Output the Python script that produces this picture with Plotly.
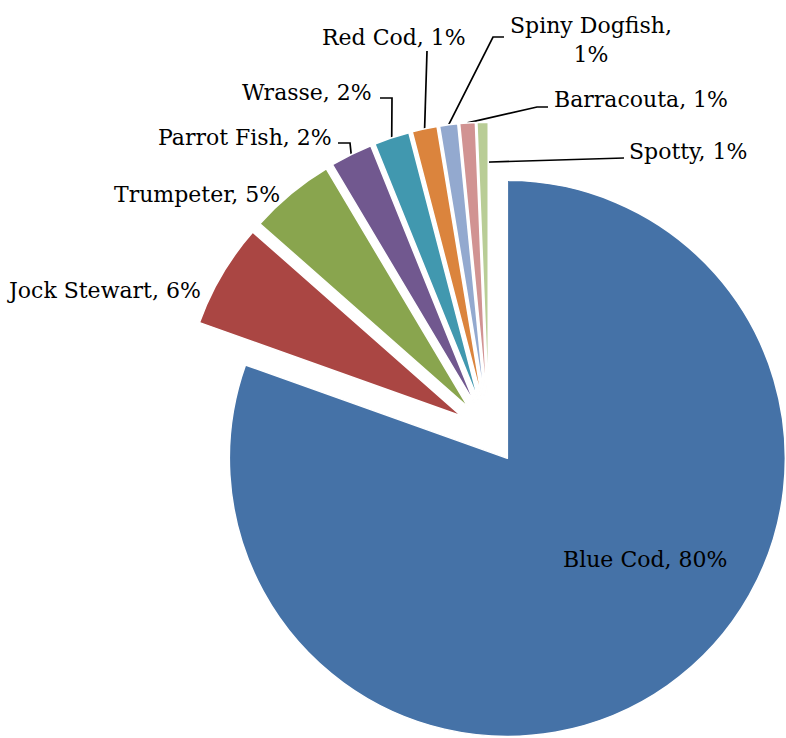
import math
import plotly.graph_objects as go

# Catch composition by species (share of total, %)
species = ["Blue Cod", "Jock Stewart", "Trumpeter", "Parrot Fish", "Wrasse",
           "Red Cod", "Spiny Dogfish", "Barracouta", "Spotty"]
share = [80.45, 6.05, 4.95, 2.45, 2.05, 1.45, 1.05, 0.90, 0.65]
colors = ["#4572A7", "#AA4643", "#89A54E", "#71588F", "#4198AF",
          "#DB843D", "#93A9CF", "#D19392", "#B9CD96"]

W, H = 786, 738
R = 278                  # slice radius (px)
CX, CY = 488.9, 432.2    # shared pie centre (px)
EXPLODE = 32             # every slice is pushed out along its bisector (px)

n = len(species)
total = sum(share)
pct = [v / total * 100 for v in share]

# bisector angle of each slice, clockwise from 12 o'clock
mids, acc = [], 0.0
for v in share:
    mids.append((acc + v / 2) / total * 2 * math.pi)
    acc += v


def unit(a):
    return math.sin(a), -math.cos(a)


apex = [(CX + EXPLODE * unit(a)[0], CY + EXPLODE * unit(a)[1]) for a in mids]


def px(x, y):
    return x / W, 1 - y / H


fig = go.Figure()

# one pie per exploded slice, all sharing the same values and angles
for i in range(n):
    ax, ay = apex[i]
    x0, x1 = max(0, (ax - R) / W), min(1, (ax + R) / W)
    y0, y1 = max(0, 1 - (ay + R) / H), min(1, 1 - (ay - R) / H)
    fig.add_trace(go.Pie(
        labels=species, values=share, sort=False,
        direction="clockwise", rotation=0,
        marker=dict(
            colors=[colors[j] if j == i else "rgba(0,0,0,0)" for j in range(n)],
            line=dict(color="white",
                      width=[1.5 if j == i else 0 for j in range(n)]),
        ),
        textinfo="none", hoverinfo="label+percent", showlegend=False,
        domain=dict(x=[x0, x1], y=[y0, y1]),
    ))

# label placement (px) and leader-line bends (px)
label_pos = {
    "Blue Cod": (645, 559, "center"),
    "Jock Stewart": (203, 290, "right"),
    "Trumpeter": (282, 195, "right"),
    "Parrot Fish": (334, 137, "right"),
    "Wrasse": (374, 93, "right"),
    "Red Cod": (394, 37, "center"),
    "Spiny Dogfish": (508, 40, "left"),
    "Barracouta": (552, 100, "left"),
    "Spotty": (627, 151, "left"),
}
leader_bends = {
    "Parrot Fish": [(350, 143), (338, 143)],
    "Wrasse": [(392, 98), (380, 98)],
    "Red Cod": [(427, 51)],
    "Spiny Dogfish": [(493, 37), (504, 37)],
    "Barracouta": [(537, 107), (548, 107)],
    "Spotty": [(624, 158)],
}
leader_depth = {"Spotty": 40}

annotations = []
for i, name in enumerate(species):
    x, y, anchor = label_pos[name]
    sep = "<br>" if name == "Spiny Dogfish" else " "
    text = f"{name},{sep}{pct[i]:.0f}%"
    xp, yp = px(x, y)
    annotations.append(dict(
        x=xp, y=yp, xref="paper", yref="paper", text=text,
        showarrow=False, xanchor=anchor, yanchor="middle", align="center",
        font=dict(family="DejaVu Serif", size=22, color="black"),
    ))

shapes = []
for i, name in enumerate(species):
    if name not in leader_bends:
        continue
    rr = R - leader_depth.get(name, 0)
    ux, uy = unit(mids[i])
    sx, sy = apex[i][0] + rr * ux, apex[i][1] + rr * uy
    pts = [(sx, sy)] + leader_bends[name]
    path = "M " + " L ".join(f"{px(a, b)[0]:.5f},{px(a, b)[1]:.5f}" for a, b in pts)
    shapes.append(dict(type="path", path=path, xref="paper", yref="paper",
                       line=dict(color="black", width=1.7), layer="below"))

fig.update_layout(
    width=W, height=H,
    margin=dict(l=0, r=0, t=0, b=0),
    paper_bgcolor="white", plot_bgcolor="white",
    annotations=annotations, shapes=shapes,
)

fig.write_html("out.html")
